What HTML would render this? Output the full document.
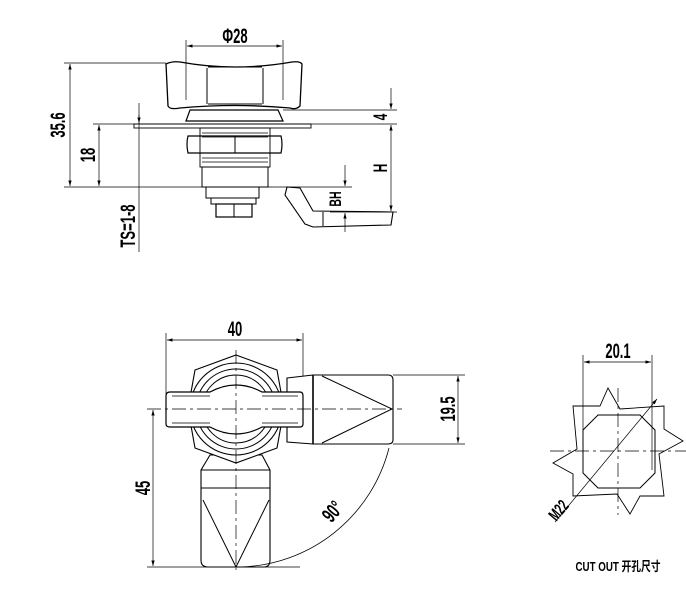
<!DOCTYPE html>
<html><head><meta charset="utf-8"><style>html,body{margin:0;padding:0;background:#fff}svg{display:block}</style></head>
<body>
<svg width="686" height="589" viewBox="0 0 686 589" xmlns="http://www.w3.org/2000/svg" font-family="Liberation Sans, sans-serif">
<defs><marker id="a" viewBox="0 0 10 6" refX="10" refY="3" markerWidth="8" markerHeight="5" orient="auto-start-reverse"><path d="M0,0L10,3L0,6z" fill="#000"/></marker></defs>
<g stroke="#000" fill="none" stroke-width="1">
<line x1="186" y1="40" x2="186" y2="100" stroke-width="0.7"/><line x1="283" y1="40" x2="283" y2="100" stroke-width="0.7"/>
<line x1="187" y1="46" x2="282" y2="46" marker-start="url(#a)" marker-end="url(#a)" stroke-width="0.7"/>
<path d="M166,64 Q172,61 180,62 Q235,72 292,62 Q300,61 302,64 L300,106 Q296,110 290,108 Q235,103 180,108 Q170,110 168,106 Z" stroke-width="1.3"/>
<path d="M207,68 L207,104 M263,68 L263,104 M208,67 L262,67 M208,104 L262,104"/>
<path d="M190,110 L278,110 L283,121 L186,121 Z" stroke-width="1.2"/>
<rect x="134" y="124" width="177" height="4" stroke-width="0.9"/>
<rect x="200" y="128" width="70" height="39" stroke-width="0.9"/>
<path d="M202,133 H268 M202,137 H268 M202,158 H268 M202,162 H268" stroke-width="0.7"/>
<path d="M188,136 Q186,144 188,153 L281,153 Q283,144 281,136 Z" stroke-width="1.2"/>
<line x1="235" y1="136" x2="235" y2="153"/>
<rect x="202" y="167" width="66" height="20"/>
<rect x="206" y="187" width="53" height="11"/>
<rect x="211" y="198" width="45" height="6"/>
<rect x="216" y="204" width="36" height="13" stroke-width="1.2"/>
<line x1="234" y1="204" x2="234" y2="217"/>
<path d="M287,187 L300,188 L313,211 L393,212 L391,225 L313,227 L305,224 L285,195 Z" stroke-width="1.1"/>
<line x1="323" y1="212" x2="323" y2="226"/>
<line x1="64" y1="63" x2="166" y2="63" stroke-width="0.7"/>
<line x1="64" y1="187" x2="352" y2="187" stroke-width="0.7"/>
<line x1="93" y1="124" x2="397" y2="124" stroke-width="0.7"/>
<line x1="283" y1="110" x2="397" y2="110" stroke-width="0.7"/>
<line x1="330" y1="212" x2="397" y2="212" stroke-width="0.7"/>
<line x1="70" y1="64" x2="70" y2="186" marker-start="url(#a)" marker-end="url(#a)" stroke-width="0.7"/>
<line x1="99" y1="125" x2="99" y2="186" marker-start="url(#a)" marker-end="url(#a)" stroke-width="0.7"/>
<line x1="139" y1="103" x2="139" y2="252" stroke-width="0.7"/>
<line x1="139" y1="115" x2="139" y2="123" marker-end="url(#a)" stroke-width="0.7"/>
<line x1="391" y1="88" x2="391" y2="109" marker-end="url(#a)" stroke-width="0.7"/>
<line x1="391" y1="125" x2="391" y2="211" marker-start="url(#a)" marker-end="url(#a)" stroke-width="0.7"/>
<line x1="345" y1="165" x2="345" y2="186" marker-end="url(#a)" stroke-width="0.7"/>
<line x1="345" y1="213" x2="345" y2="232" marker-start="url(#a)" stroke-width="0.7"/>
<line x1="166" y1="333" x2="166" y2="395" stroke-width="0.7"/><line x1="303" y1="333" x2="303" y2="395" stroke-width="0.7"/>
<line x1="167" y1="340" x2="302" y2="340" marker-start="url(#a)" marker-end="url(#a)" stroke-width="0.7"/>
<path d="M201,470 L201,560 Q201,567 208,567 L264,567 Q270,567 270,560 L270,470 L262,455 L210,455 Z" fill="#fff" stroke-width="1.1"/>
<path d="M201,470 H270 M201,488 H270 M203,500 L236,567 L269,500"/>
<path d="M287,378 L313,375 L388,375 Q393,375 393,380 L393,440 Q393,444 388,444 L313,444 L287,442 Z" fill="#fff" stroke-width="1.1"/>
<line x1="313" y1="375" x2="313" y2="444" stroke-width="1.6"/>
<path d="M322,376 L392,409 L322,443"/>
<path d="M236,355 L277,370 L284,409 L277,448 L236,463 L195,448 L188,409 L195,370 Z" fill="#fff" stroke-width="1.1"/>
<circle cx="236" cy="409" r="46" stroke-width="1.1"/>
<circle cx="236" cy="409" r="40"/>
<circle cx="236" cy="409" r="34"/>
<path d="M170,392 L210,392 Q236,378 262,392 L300,392 Q303,392 303,396 L303,424 Q303,427 300,427 L262,427 Q236,441 210,427 L170,427 Q166,427 166,424 L166,396 Q166,392 170,392 Z" fill="#fff" stroke-width="1.2"/>
<path d="M172,396 L210,396 M262,396 L298,396 M172,423 L210,423 M262,423 L298,423" stroke-width="0.7"/>
<line x1="147" y1="409" x2="402" y2="409" stroke-dasharray="14,4,3,4" stroke-width="0.7"/>
<line x1="236" y1="350" x2="236" y2="570" stroke-dasharray="14,4,3,4" stroke-width="0.7"/>
<line x1="393" y1="375" x2="465" y2="375" stroke-width="0.7"/>
<line x1="393" y1="444" x2="465" y2="444" stroke-width="0.7"/>
<line x1="458" y1="376" x2="458" y2="443" marker-start="url(#a)" marker-end="url(#a)" stroke-width="0.7"/>
<line x1="147" y1="567" x2="300" y2="567" stroke-width="0.7"/>
<line x1="153" y1="410" x2="153" y2="566" marker-start="url(#a)" marker-end="url(#a)" stroke-width="0.7"/>
<path d="M389,448 A158,158 0 0 1 240,567" stroke-width="0.8"/>
<line x1="583" y1="355" x2="583" y2="470" stroke-width="0.7"/><line x1="652" y1="355" x2="652" y2="470" stroke-width="0.7"/>
<line x1="584" y1="362" x2="651" y2="362" marker-start="url(#a)" marker-end="url(#a)" stroke-width="0.7"/>
<path d="M573,406 L600,406 L608,388 L620,409 L664,406 L664,429 L683,441 L659,454 L664,496 L640,496 L630,514 L617,494 L573,496 L573,474 L553,463 L577,449 Z" stroke-width="0.9"/>
<path d="M598,415 L640,415 L655,430 L655,473 L640,488 L598,488 L583,473 L583,430 Z" stroke-width="1"/>
<line x1="550" y1="451" x2="686" y2="451" stroke-dasharray="14,4,3,4" stroke-width="0.7"/>
<line x1="618" y1="388" x2="618" y2="515" stroke-dasharray="14,4,3,4" stroke-width="0.7"/>
<line x1="657" y1="399" x2="555" y2="522" stroke-width="0.7" marker-start="url(#a)"/>
</g>
<g fill="#000" font-weight="bold">
<text font-size="21" text-anchor="middle" transform="translate(235,43) scale(0.62,1)">Φ28</text>
<text font-size="21" text-anchor="middle" transform="translate(235,336) scale(0.62,1)">40</text>
<text font-size="21" text-anchor="middle" transform="translate(618,358) scale(0.62,1)">20.1</text>
<text font-size="21" text-anchor="middle" transform="translate(65,125) rotate(-90) scale(0.62,1)">35.6</text>
<text font-size="21" text-anchor="middle" transform="translate(95,155) rotate(-90) scale(0.62,1)">18</text>
<text font-size="21" text-anchor="middle" transform="translate(135,226) rotate(-90) scale(0.62,1)">TS=1-8</text>
<text font-size="19" text-anchor="middle" transform="translate(387,117) rotate(-90) scale(0.62,1)">4</text>
<text font-size="19" text-anchor="middle" transform="translate(387,168) rotate(-90) scale(0.62,1)">H</text>
<text font-size="17" text-anchor="middle" transform="translate(341,199) rotate(-90) scale(0.62,1)">BH</text>
<text font-size="21" text-anchor="middle" transform="translate(455,409) rotate(-90) scale(0.62,1)">19.5</text>
<text font-size="21" text-anchor="middle" transform="translate(150,488) rotate(-90) scale(0.62,1)">45</text>
<text font-size="21" text-anchor="middle" transform="translate(338,516) rotate(-50) scale(0.62,1)">90°</text>
<text font-size="17" text-anchor="middle" transform="translate(563,514) rotate(-50) scale(0.62,1)">M22</text>
<text font-size="13" text-anchor="middle" font-family="Liberation Sans, Noto Sans CJK SC, sans-serif" transform="translate(618,571) scale(0.75,1)">CUT OUT 开孔尺寸</text>
</g>
</svg>
</body></html>
